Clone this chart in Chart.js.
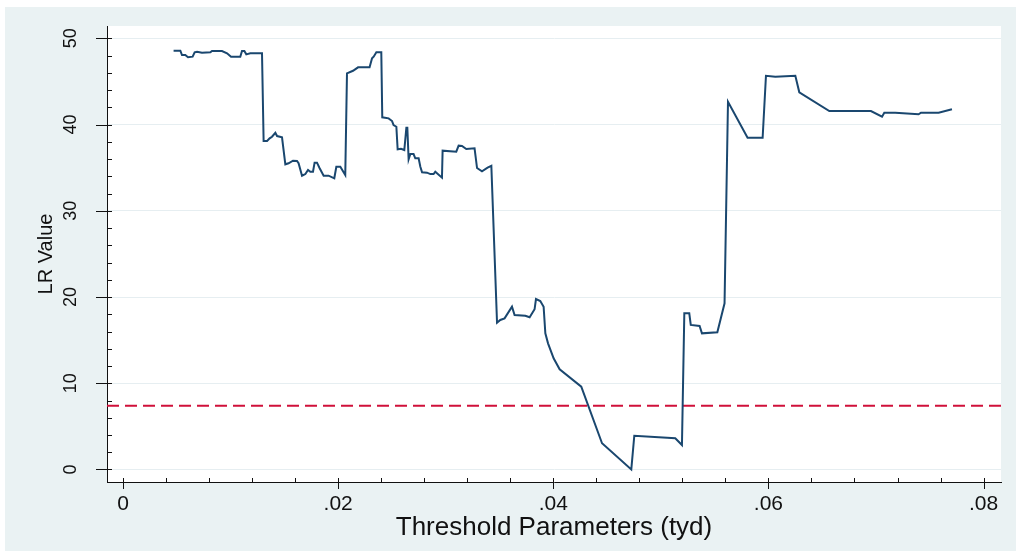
<!DOCTYPE html>
<html>
<head>
<meta charset="utf-8">
<script src="https://cdn.jsdelivr.net/npm/chart.js@4/dist/chart.umd.min.js"></script>
<style>
  body { margin: 0; background: #fff; }
  #frame { position: absolute; left: 5px; top: 7px; width: 1011px; height: 544px; background: #EAF2F3; }
</style>
</head>
<body>
<div id="frame"><canvas id="lr-chart" width="1011" height="544"></canvas></div>
<script>
// threshold values (x) and LR statistic (y)
var thresholds = [
  0.00470,0.00533,0.00548,0.00579,0.00604,0.00647,0.00666,0.00688,0.00734,0.00812,
  0.00827,0.00920,0.00967,0.01004,0.01090,0.01106,0.01128,0.01146,0.01183,0.01292,
  0.01307,0.01339,0.01363,0.01385,0.01416,0.01432,0.01478,0.01509,0.01539,0.01580,
  0.01617,0.01632,0.01664,0.01695,0.01720,0.01741,0.01766,0.01781,0.01803,0.01828,
  0.01865,0.01911,0.01964,0.01983,0.02020,0.02066,0.02082,0.02138,0.02185,0.02292,
  0.02315,0.02330,0.02355,0.02401,0.02410,0.02469,0.02501,0.02515,0.02541,0.02553,
  0.02584,0.02615,0.02634,0.02643,0.02655,0.02671,0.02701,0.02717,0.02748,0.02764,
  0.02780,0.02826,0.02857,0.02887,0.02903,0.02965,0.02971,0.03098,0.03120,0.03151,
  0.03191,0.03268,0.03291,0.03337,0.03389,0.03424,0.03477,0.03507,0.03547,0.03616,
  0.03640,0.03740,0.03780,0.03826,0.03839,0.03879,0.03910,0.03926,0.03951,0.04003,
  0.04059,0.04260,0.04453,0.04725,0.04753,0.05134,0.05196,0.05218,0.05264,0.05278,
  0.05360,0.05382,0.05525,0.05592,0.05624,0.05806,0.05946,0.05977,0.06064,0.06250,
  0.06287,0.06566,0.06953,0.07056,0.07077,0.07179,0.07396,0.07418,0.07582,0.07706
];
var lrValues = [
  48.56,48.56,48.06,48.06,47.80,47.87,48.38,48.45,48.33,48.38,
  48.53,48.53,48.26,47.87,47.87,48.53,48.53,48.14,48.26,48.26,
  38.09,38.09,38.40,38.59,39.05,38.67,38.52,35.39,35.51,35.81,
  35.77,35.51,34.07,34.26,34.73,34.53,34.53,35.58,35.58,34.93,
  34.07,34.07,33.77,35.11,35.11,34.15,45.94,46.24,46.64,46.64,
  47.68,47.87,48.38,48.38,40.84,40.72,40.41,39.95,39.75,37.13,
  37.20,37.05,39.63,39.63,35.97,36.58,36.58,36.09,36.09,35.11,
  34.46,34.42,34.26,34.26,34.53,33.84,36.97,36.85,37.55,37.51,
  37.16,37.24,34.96,34.58,35.00,35.22,17.02,17.34,17.53,18.88,
  17.92,17.83,17.65,18.58,19.77,19.54,18.88,15.79,14.63,12.89,
  11.62,9.60,3.04,0.00,3.92,3.62,2.84,18.11,18.11,16.76,
  16.64,15.79,15.91,19.27,42.65,38.47,38.47,45.66,45.55,45.66,
  43.74,41.57,41.57,40.91,41.37,41.37,41.19,41.37,41.37,41.77
];
var criticalValue = 7.4;

var xTickValues = [0, 0.02, 0.04, 0.06, 0.08];
var xTickLabels = ['0', '.02', '.04', '.06', '.08'];
var xMinorTicks = [0.004,0.008,0.012,0.016,0.024,0.028,0.032,0.036,0.044,0.048,0.052,0.056,0.064,0.068,0.072,0.076];
var yTickValues = [0, 10, 20, 30, 40, 50];
var yTickLabels = ['0', '10', '20', '30', '40', '50'];
var yMinorTicks = [2,4,6,8,12,14,16,18,22,24,26,28,32,34,36,38,42,44,46,48];

var xMin = -0.00149, xMax = 0.08162;
var yMin = -1.45, yMax = 51.43;

var FONT = "'Liberation Sans', Arial, sans-serif";

// white plot region
var plotBg = {
  id: 'plotBg',
  beforeDraw: function(chart) {
    var a = chart.chartArea, c = chart.ctx;
    c.save();
    c.fillStyle = '#fff';
    c.fillRect(a.left, a.top, a.right - a.left, a.bottom - a.top);
    c.restore();
  }
};

// stata style tick marks (major cross the axis, minor inside)
var tickMarks = {
  id: 'tickMarks',
  afterDraw: function(chart) {
    var c = chart.ctx, a = chart.chartArea;
    var xs = chart.scales.x, ys = chart.scales.y;
    c.save();
    c.strokeStyle = '#111';
    c.lineWidth = 1;
    c.beginPath();
    xTickValues.forEach(function(v) {
      var px = Math.round(xs.getPixelForValue(v)) + 0.5;
      c.moveTo(px, a.bottom - 4); c.lineTo(px, a.bottom + 7);
    });
    xMinorTicks.forEach(function(v) {
      var px = Math.round(xs.getPixelForValue(v)) + 0.5;
      c.moveTo(px, a.bottom - 4); c.lineTo(px, a.bottom);
    });
    yTickValues.forEach(function(v) {
      var py = Math.round(ys.getPixelForValue(v)) + 0.5;
      c.moveTo(a.left - 11, py); c.lineTo(a.left + 5, py);
    });
    yMinorTicks.forEach(function(v) {
      var py = Math.round(ys.getPixelForValue(v)) + 0.5;
      c.moveTo(a.left, py); c.lineTo(a.left + 5, py);
    });
    c.stroke();
    c.restore();
  }
};

var ctx = document.getElementById('lr-chart').getContext('2d');
var lrChart = new Chart(ctx, {
  type: 'line',
  data: {
    datasets: [{
      data: thresholds.map(function(t, i) { return {x: t, y: lrValues[i]}; }),
      borderColor: '#1A476F',
      borderWidth: 2,
      pointRadius: 0,
      tension: 0,
      fill: false,
      order: 0
    }, {
      data: [{x: xMin, y: criticalValue}, {x: xMax, y: criticalValue}],
      borderColor: '#D0103A',
      borderWidth: 2,
      borderDash: [12, 6],
      pointRadius: 0,
      fill: false,
      order: 1
    }]
  },
  options: {
    responsive: false,
    animation: false,
    devicePixelRatio: 1,
    layout: { padding: { left: 0, right: 15, top: 19, bottom: 0 } },
    plugins: {
      legend: { display: false },
      tooltip: { enabled: false }
    },
    scales: {
      x: {
        type: 'linear',
        min: xMin,
        max: xMax,
        afterBuildTicks: function(scale) {
          scale.ticks = xTickValues.map(function(v) { return {value: v}; });
        },
        afterFit: function(scale) {
          scale.height = 69;
          scale.paddingLeft = 0;
          scale.paddingRight = 0;
        },
        grid: { display: true, color: 'rgba(0,0,0,0)', drawTicks: false },
        border: { display: true, color: '#111', width: 1 },
        ticks: {
          autoSkip: false,
          maxRotation: 0,
          padding: 10,
          color: '#111',
          font: { family: FONT, size: 21 },
          callback: function(value, index) { return xTickLabels[index]; }
        },
        title: {
          display: true,
          text: 'Threshold Parameters (tyd)',
          color: '#111',
          font: { family: FONT, size: 26 },
          padding: { top: 0, bottom: 8 }
        }
      },
      y: {
        type: 'linear',
        min: yMin,
        max: yMax,
        afterBuildTicks: function(scale) {
          scale.ticks = yTickValues.map(function(v) { return {value: v}; });
        },
        afterCalculateLabelRotation: function(scale) { scale.labelRotation = 90; },
        afterFit: function(scale) {
          scale.width = 102;
          scale.paddingTop = 0;
          scale.paddingBottom = 0;
        },
        grid: { color: '#E6EEF1', lineWidth: 1, drawTicks: false },
        border: { display: true, color: '#111', width: 1 },
        ticks: {
          autoSkip: false,
          crossAlign: 'center',
          padding: 26,
          color: '#111',
          font: { family: FONT, size: 18 },
          callback: function(value, index) { return yTickLabels[index]; }
        },
        title: {
          display: true,
          text: 'LR Value',
          color: '#111',
          font: { family: FONT, size: 20 },
          padding: { top: 29, bottom: 0 }
        }
      }
    }
  },
  plugins: [plotBg, tickMarks]
});
</script>
</body>
</html>
